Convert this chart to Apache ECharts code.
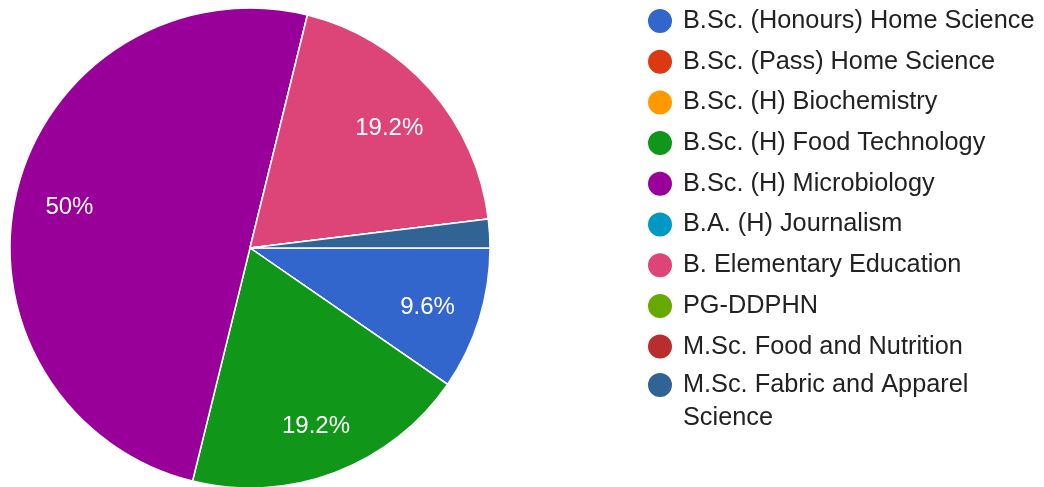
<!DOCTYPE html>
<html>
<head>
<meta charset="utf-8">
<script src="https://cdn.jsdelivr.net/npm/echarts@6/dist/echarts.min.js"></script>
<style>
  html, body { margin: 0; padding: 0; background: #ffffff; }
  #chart { width: 1044px; height: 487px; }
</style>
</head>
<body>
<div id="chart"></div>
<script>
// Programmes and number of responses for each
const categories = [
  'B.Sc. (Honours) Home Science',
  'B.Sc. (Pass) Home Science',
  'B.Sc. (H) Biochemistry',
  'B.Sc. (H) Food Technology',
  'B.Sc. (H) Microbiology',
  'B.A. (H) Journalism',
  'B. Elementary Education',
  'PG-DDPHN',
  'M.Sc. Food and Nutrition',
  'M.Sc. Fabric and Apparel Science'
];
const counts = [5, 0, 0, 10, 26, 0, 10, 0, 0, 1];
const colors = ['#3366cc', '#dc3912', '#ff9900', '#109618', '#990099',
                '#0099c6', '#dd4477', '#66aa00', '#b82e2e', '#316395'];

const total = counts.reduce((a, b) => a + b, 0);
const pieData = categories.map((name, i) => ({ name, value: counts[i] }));

function pctText(v) {
  const s = (v / total * 100).toFixed(1);
  return (s.endsWith('.0') ? s.slice(0, -2) : s) + '%';
}

const FONT = '"Liberation Sans", Arial, sans-serif';
const LEGEND_LEFT = 646;

const legendText = {
  fontFamily: FONT,
  fontSize: 25.3,
  color: '#222222',
  lineHeight: 33,
  width: 356,
  overflow: 'break'
};
const legendBase = {
  orient: 'vertical',
  left: LEGEND_LEFT,
  height: 2000,
  padding: 0,
  icon: 'circle',
  itemWidth: 36,
  itemHeight: 26,
  itemGap: 7.7,
  selectedMode: false,
  textStyle: legendText
};

const chart = echarts.init(document.getElementById('chart'), null, { renderer: 'canvas' });
chart.setOption({
  animation: false,
  color: colors,
  legend: [
    Object.assign({}, legendBase, {
      top: 4.5,
      data: categories.slice(0, -1)
    }),
    // last entry wraps onto two lines; a leading blank line keeps the
    // first line of text level with its marker
    Object.assign({}, legendBase, {
      top: 335.5,
      data: categories.slice(-1),
      formatter: name => ' \n' + name
    })
  ],
  series: [
    {
      type: 'pie',
      center: [250, 248],
      radius: [0, 240],
      startAngle: 0,
      clockwise: true,
      silent: true,
      label: { show: false },
      labelLine: { show: false },
      itemStyle: { borderColor: '#ffffff', borderWidth: 1.5 },
      emphasis: { disabled: true },
      data: pieData
    },
    {
      // label layer: percentages placed about three quarters of the way out
      type: 'pie',
      center: [250, 248],
      radius: [126, 240],
      startAngle: 0,
      clockwise: true,
      silent: true,
      legendHoverLink: false,
      itemStyle: { color: 'rgba(0,0,0,0)', borderWidth: 0 },
      emphasis: { disabled: true },
      labelLine: { show: false },
      label: {
        show: true,
        position: 'inside',
        offset: [0, 4],
        fontFamily: FONT,
        fontSize: 24,
        color: '#ffffff',
        formatter: p => (p.value / total < 0.05 ? '' : pctText(p.value))
      },
      data: pieData.map(d => ({ name: d.name + ' ', value: d.value }))
    }
  ]
});
</script>
</body>
</html>
